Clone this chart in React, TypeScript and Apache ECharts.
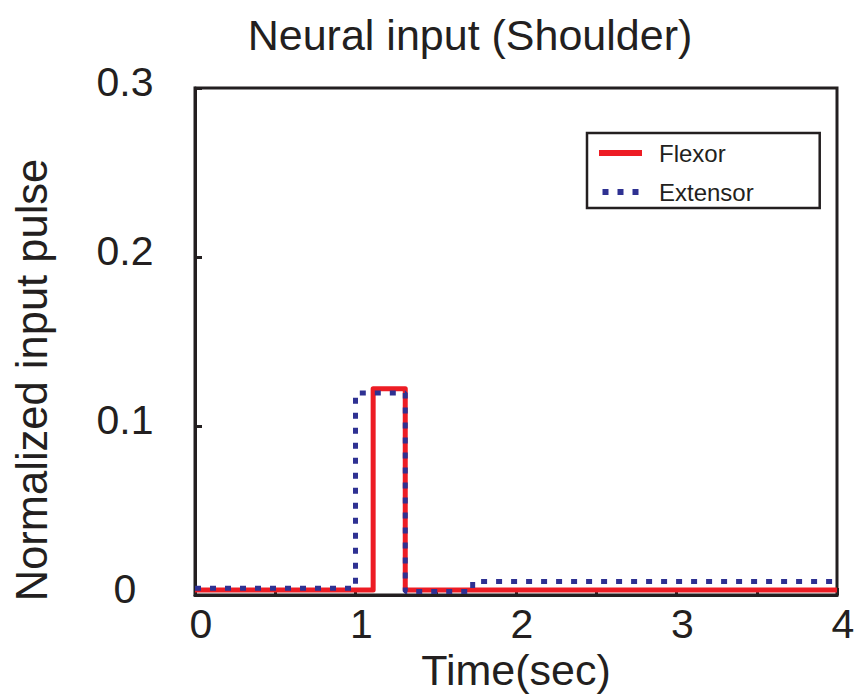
import React, { useEffect, useRef } from "react";
import * as echarts from "echarts";

const titleText = "Neural input (Shoulder)";
const xAxisName = "Time(sec)";
const yAxisName = "Normalized input pulse";
const seriesNames = ["Flexor", "Extensor"];

// step outlines [time, value]
const flexorTime = [0, 1.11, 1.11, 1.31, 1.31, 4];
const flexorValue = [0.003, 0.003, 0.122, 0.122, 0.003, 0.003];
const extensorTime = [0, 1.0, 1.0, 1.31, 1.31, 1.73, 1.73, 4];
const extensorValue = [0.004, 0.004, 0.1195, 0.1195, 0.002, 0.002, 0.008, 0.008];

const FONT = '"Liberation Sans", Arial, Helvetica, sans-serif';
const INK = "#231F20";
const RED = "#ED1C24";
const BLUE = "#2E3192";

export default function App() {
  const ref = useRef<HTMLDivElement>(null);
  useEffect(() => {
    if (!ref.current) return;
    const chart = echarts.init(ref.current, null, { renderer: "svg" });
    const flexor = flexorTime.map((t, i) => [t, flexorValue[i]]);
    const extensor = extensorTime.map((t, i) => [t, extensorValue[i]]);
    chart.setOption({
      animation: false,
      backgroundColor: "#ffffff",
      grid: {
        left: 195,
        right: 23,
        top: 88,
        bottom: 103,
        show: true,
        borderColor: INK,
        borderWidth: 3,
        backgroundColor: "transparent",
      },
      legend: {
        orient: "vertical",
        left: 587,
        top: 133,
        data: [
          { name: seriesNames[0], icon: "rect" },
          { name: seriesNames[1], icon: "path://M0,0h6v6h-6zM15,0h6v6h-6zM30,0h6v6h-6z" },
        ],
        itemWidth: 43,
        itemHeight: 6,
        itemGap: 15,
        padding: [8, 66, 4, 12],
        borderColor: INK,
        borderWidth: 2.5,
        borderRadius: 0,
        textStyle: {
          fontFamily: FONT,
          fontSize: 24,
          lineHeight: 20,
          color: INK,
          padding: [0, 0, 0, 12],
        },
      },
      xAxis: {
        type: "value",
        min: 0,
        max: 4,
        interval: 0.5,
        name: xAxisName,
        nameLocation: "middle",
        nameGap: 40,
        nameTextStyle: { fontFamily: FONT, fontSize: 43, color: INK },
        axisLine: { show: true, lineStyle: { color: INK, width: 3 } },
        axisTick: { show: true, inside: true, length: 7, lineStyle: { color: INK, width: 3 } },
        splitLine: { show: false },
        axisLabel: {
          fontFamily: FONT,
          fontSize: 41,
          color: INK,
          margin: 8,
          padding: [0, 0, 0, 12],
          formatter: (v: number) => (Math.abs(v - Math.round(v)) < 1e-9 ? String(Math.round(v)) : ""),
        },
      },
      yAxis: {
        type: "value",
        min: 0,
        max: 0.3,
        interval: 0.1,
        axisLine: { show: true, lineStyle: { color: INK, width: 3 } },
        axisTick: { show: true, inside: true, length: 7, lineStyle: { color: INK, width: 3 } },
        splitLine: { show: false },
        axisLabel: {
          fontFamily: FONT,
          fontSize: 41,
          color: INK,
          margin: 70,
          align: "center",
          verticalAlign: "bottom",
          lineHeight: 12,
          formatter: (v: number) => (v === 0 ? "0" : v.toFixed(1)),
        },
      },
      graphic: [
        {
          type: "text",
          x: 470,
          y: 35,
          style: {
            text: titleText,
            fontFamily: FONT,
            fontSize: 43,
            fill: INK,
            align: "center",
            verticalAlign: "middle",
          },
        },
        {
          type: "text",
          x: 32,
          y: 380,
          rotation: Math.PI / 2,
          style: {
            text: yAxisName,
            fontFamily: FONT,
            fontSize: 43.5,
            fill: INK,
            align: "center",
            verticalAlign: "middle",
          },
        },
      ],
      series: [
        {
          name: seriesNames[0],
          type: "line",
          data: flexor,
          symbol: "none",
          lineStyle: { color: RED, width: 5, join: "round", cap: "butt" },
          itemStyle: { color: RED },
          z: 2,
        },
        {
          name: seriesNames[1],
          type: "line",
          data: extensor,
          symbol: "none",
          lineStyle: { color: BLUE, width: 5, type: [6, 9], cap: "butt" },
          itemStyle: { color: BLUE },
          z: 3,
        },
      ],
    });
    return () => chart.dispose();
  }, []);
  return <div ref={ref} style={{ width: 860, height: 698, position: "absolute", left: 0, top: 0 }} />;
}
